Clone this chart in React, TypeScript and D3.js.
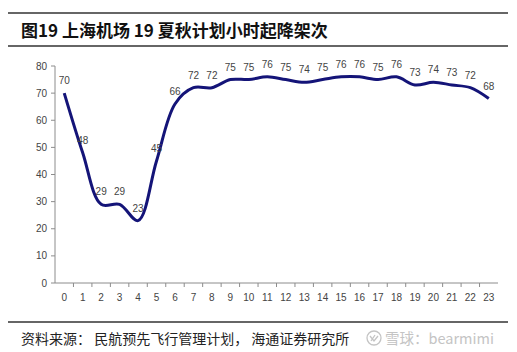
import React from "react";
import * as d3 from "d3";

// hourly scheduled movements, Shanghai airports, summer-autumn 2019
const hours = d3.range(0, 24).map((h) => h.toString());
const movements = [70, 48, 29, 29, 23, 45, 66, 72, 72, 75, 75, 76, 75, 74, 75, 76, 76, 75, 76, 73, 74, 73, 72, 68];
const yTicks = [0, 10, 20, 30, 40, 50, 60, 70, 80];

const title = "图19 上海机场 19 夏秋计划小时起降架次";
const source = "资料来源： 民航预先飞行管理计划， 海通证券研究所";
const watermark = "雪球：bearmimi";

const width = 517;
const height = 352;
const plot = { left: 55, right: 498, top: 66, bottom: 283 };
const numFont = "'Liberation Sans', Arial, sans-serif";
const cjkFont = "'Noto Sans CJK SC', sans-serif";

export default function App() {
  const x = d3.scaleBand().domain(hours).range([plot.left, plot.right]);
  const y = d3.scaleLinear().domain([0, 80]).range([plot.bottom, plot.top]);
  const cx = (i: number) => (x(hours[i]) ?? 0) + x.bandwidth() / 2;

  const line = d3
    .line<number>()
    .x((_, i) => cx(i))
    .y((d) => y(d))
    .curve(d3.curveCatmullRom.alpha(0.5));

  const axisColor = "#8c8c8c";

  return (
    <svg
      width={width}
      height={height}
      style={{ position: "absolute", left: 0, top: 0, background: "#fff" }}
    >
      {/* header rules and title */}
      <line x1={8} x2={508} y1={13} y2={13} stroke="#333" strokeWidth={1.3} />
      <line x1={8} x2={508} y1={46} y2={46} stroke="#333" strokeWidth={1.3} />
      <text x={21} y={37} fontFamily={cjkFont} fontWeight="bold" fontSize={17} fill="#111">
        {title}
      </text>

      {/* y axis */}
      <line x1={plot.left} x2={plot.left} y1={plot.top} y2={plot.bottom} stroke={axisColor} />
      {yTicks.map((t) => (
        <g key={t}>
          <line x1={plot.left - 4} x2={plot.left} y1={y(t)} y2={y(t)} stroke={axisColor} />
          <text
            x={plot.left - 8}
            y={y(t)}
            dy="0.35em"
            textAnchor="end"
            fontFamily={numFont}
            fontSize={10}
            fill="#444"
          >
            {t}
          </text>
        </g>
      ))}

      {/* x axis */}
      <line x1={plot.left} x2={plot.right} y1={plot.bottom} y2={plot.bottom} stroke={axisColor} />
      {hours.map((h, i) => (
        <g key={h}>
          {i > 0 && (
            <line
              x1={x(h) ?? 0}
              x2={x(h) ?? 0}
              y1={plot.bottom}
              y2={plot.bottom + 4}
              stroke={axisColor}
            />
          )}
          <text
            x={cx(i)}
            y={plot.bottom + 18}
            textAnchor="middle"
            fontFamily={numFont}
            fontSize={10}
            fill="#444"
          >
            {h}
          </text>
        </g>
      ))}

      {/* series */}
      <path d={line(movements) ?? ""} fill="none" stroke="#141478" strokeWidth={3} />
      {movements.map((v, i) => (
        <text
          key={i}
          x={cx(i)}
          y={y(v) - 9}
          textAnchor="middle"
          fontFamily={numFont}
          fontSize={10}
          fill="#444"
        >
          {v}
        </text>
      ))}

      {/* footer */}
      <line x1={8} x2={508} y1={322} y2={322} stroke="#333" strokeWidth={1.3} />
      <text x={21} y={344} fontFamily={cjkFont} fontSize={14} fill="#222">
        {source}
      </text>
      <g transform="translate(374,338)" stroke="#c4c4c4" strokeWidth={1.3} fill="none">
        <circle r={7} />
        <path d="M-4,-2 L0,3 L4,-2 M-3,3 L1,-3" />
      </g>
      <text x={385} y={344} fontFamily={cjkFont} fontSize={14.5} fill="#c4c4c4">
        {watermark}
      </text>
    </svg>
  );
}
